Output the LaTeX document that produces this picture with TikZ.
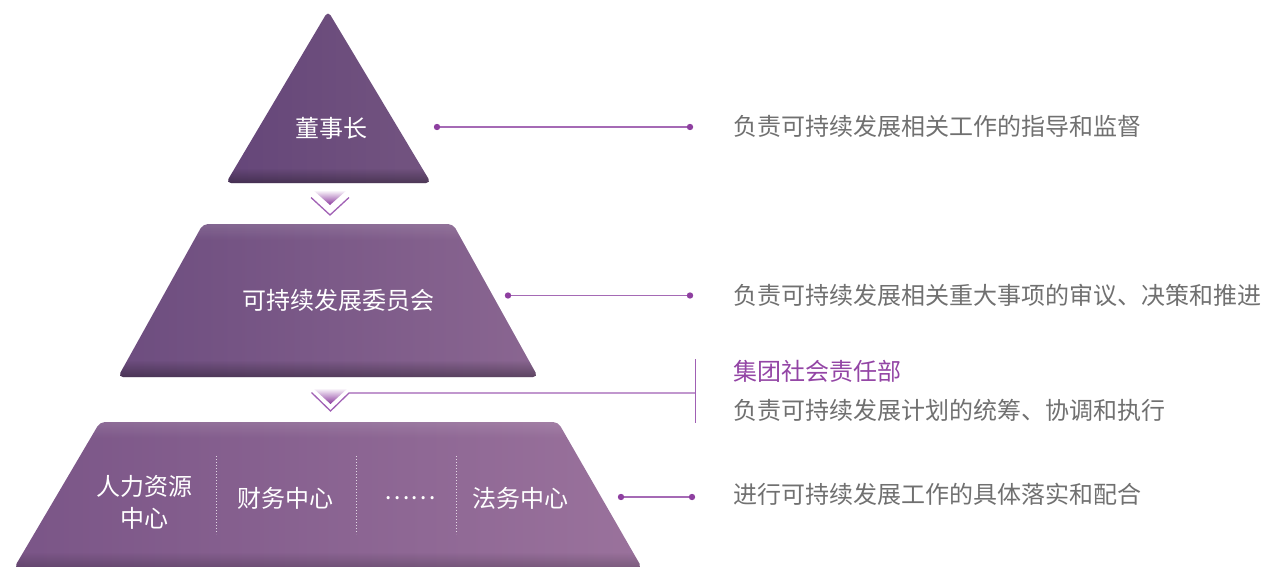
\documentclass[tikz,border=0pt]{standalone}
\usepackage{fontspec}
\setmainfont{Noto Sans CJK SC}
\usetikzlibrary{fadings}
\definecolor{txtgrey}{HTML}{707070}
\definecolor{lnpurple}{HTML}{A56AB5}
\definecolor{dotpurple}{HTML}{8E3FA0}
\definecolor{titlepurple}{HTML}{9345A5}
\definecolor{chevpurple}{HTML}{8A3A9E}
\definecolor{chevline}{HTML}{A060B4}
\definecolor{triL}{HTML}{654679}
\definecolor{triR}{HTML}{735480}
\definecolor{trapbL}{HTML}{6D4D7F}
\definecolor{trapbR}{HTML}{8A6691}
\definecolor{trapcL}{HTML}{7A5587}
\definecolor{trapcR}{HTML}{9A729C}
\tikzfading[name=fadedown, top color=transparent!100, bottom color=transparent!0]
\tikzfading[name=fadeup, top color=transparent!0, bottom color=transparent!100]
\tikzset{
  intext/.style={text=white, inner sep=0pt, font=\fontsize{24}{32}\selectfont},
  desc/.style={text=txtgrey, anchor=west, inner sep=0pt, font=\fontsize{24}{30}\selectfont},
  desctitle/.style={text=titlepurple, anchor=west, inner sep=0pt, font=\fontsize{24}{30}\selectfont},
  conn/.style={lnpurple, line width=1.4pt},
  dotmark/.style={fill=dotpurple},
  chevfill/.style={top color=white, bottom color=chevpurple},
  chevstroke/.style={chevline, line width=1.3pt},
  divider/.style={white, opacity=0.75, line width=0.8pt, dash pattern=on 1pt off 2pt},
  stone/.style={rounded corners=5pt},
  shadowband/.style={fill=black, opacity=0.35, path fading=fadedown},
  lightband/.style={fill=white, opacity=0.12, path fading=fadeup}
}
\begin{document}
\begin{tikzpicture}[x=1pt,y=-1pt]
\useasboundingbox (0,0) rectangle (1261,567);

% --- level 1: triangle
\coordinate (tA) at (328,11);
\coordinate (tR) at (431,183);
\coordinate (tL) at (226,183);
\shade[stone, left color=triL, right color=triR] (tA) -- (tR) -- (tL) -- cycle;
\begin{scope}
  \clip[stone] (tA) -- (tR) -- (tL) -- cycle;
  \path[shadowband] (200,168) rectangle (460,184);
\end{scope}
\node[intext] (chair) at (331,128) {董事长};

% --- level 2: trapezoid
\coordinate (bA) at (203,224);
\coordinate (bB) at (453,224);
\coordinate (bC) at (538,377);
\coordinate (bD) at (118,377);
\shade[stone, left color=trapbL, right color=trapbR] (bA) -- (bB) -- (bC) -- (bD) -- cycle;
\begin{scope}
  \clip[stone] (bA) -- (bB) -- (bC) -- (bD) -- cycle;
  \path[shadowband] (100,360) rectangle (560,378);
  \path[lightband] (100,223) rectangle (560,240);
\end{scope}
\node[intext] (comm) at (338,300) {可持续发展委员会};

% --- level 3: trapezoid
\coordinate (cA) at (100,422);
\coordinate (cB) at (558,422);
\coordinate (cC) at (642,568);
\coordinate (cD) at (14,568);
\shade[stone, left color=trapcL, right color=trapcR] (cA) -- (cB) -- (cC) -- (cD) -- cycle;
\begin{scope}
  \clip[stone] (cA) -- (cB) -- (cC) -- (cD) -- cycle;
  \path[lightband] (0,421) rectangle (660,438);
  \path[shadowband, opacity=0.2] (0,552) rectangle (660,568);
\end{scope}
\node[intext, align=center] (hr) at (144,502) {人力资源\\中心};
\node[intext] (fin) at (285,498) {财务中心};
\node[intext] (etc) at (410,498) {……};
\node[intext] (law) at (520,498) {法务中心};
\coordinate (v1a) at (216,456); \coordinate (v1b) at (216,534);
\coordinate (v2a) at (356,456); \coordinate (v2b) at (356,534);
\coordinate (v3a) at (456,456); \coordinate (v3b) at (456,534);
\draw[divider] (v1a) -- (v1b);
\draw[divider] (v2a) -- (v2b);
\draw[divider] (v3a) -- (v3b);

% --- chevrons
\shade[chevfill] (313,190) -- (347,190) -- (330,205) -- cycle;
\coordinate (ch1l) at (311,197.5);
\coordinate (ch1m) at (330,215);
\coordinate (ch1r) at (349,197.5);
\draw[chevstroke] (ch1l) -- (ch1m) -- (ch1r);

\shade[chevfill] (313,388) -- (348,388) -- (330.5,404) -- cycle;
\coordinate (ch2l) at (311.5,392.5);
\coordinate (ch2m) at (330.5,411);
\coordinate (ch2r) at (349,393);
\coordinate (brk) at (695.5,393);
\coordinate (brkT) at (695.5,359);
\coordinate (brkB) at (695.5,423);
\draw[chevstroke, line join=miter] (ch2l) -- (ch2m) -- (ch2r) -- (brk);
\draw[chevline, line width=1.3pt] (brkT) -- (brkB);

% --- connectors
\coordinate (p1a) at (437,127); \coordinate (p1b) at (690,127);
\coordinate (p2a) at (508,295.5); \coordinate (p2b) at (690,295.5);
\coordinate (p3a) at (621,497); \coordinate (p3b) at (692,497);
\draw[conn] (p1a) -- (p1b);
\draw[conn] (p2a) -- (p2b);
\draw[conn] (p3a) -- (p3b);
\foreach \p in {p1a,p1b,p2a,p2b,p3a,p3b} \fill[dotmark] (\p) circle (3.2);

% --- descriptions
\node[desc] (d1) at (733,126) {负责可持续发展相关工作的指导和监督};
\node[desc] (d2) at (733,295) {负责可持续发展相关重大事项的审议、决策和推进};
\node[desctitle] (t3) at (733,371) {集团社会责任部};
\node[desc] (d3) at (733,410) {负责可持续发展计划的统筹、协调和执行};
\node[desc] (d4) at (733,494) {进行可持续发展工作的具体落实和配合};
\end{tikzpicture}
\end{document}
